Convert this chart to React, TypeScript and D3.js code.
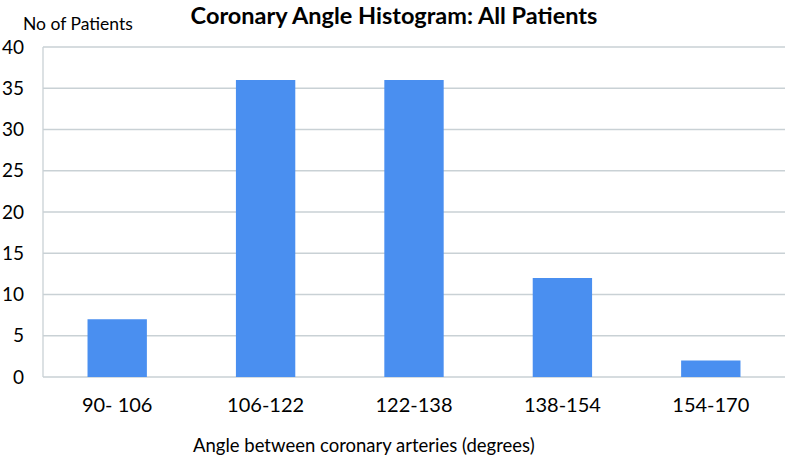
import React, { useRef, useEffect } from 'react';
import * as d3 from 'd3';

const categories = ['90- 106', '106-122', '122-138', '138-154', '154-170'];
const patients = [7, 36, 36, 12, 2];
const yTicks = [0, 5, 10, 15, 20, 25, 30, 35, 40];

const W = 787;
const H = 457;
const FONT = 'Lato, "Open Sans", sans-serif';

const App = () => {
  const ref = useRef<SVGSVGElement>(null);

  useEffect(() => {
    const svg = d3.select(ref.current);
    svg.selectAll('*').remove();

    const left = 43, right = 785, top = 47, bottom = 377;

    const x = d3.scaleBand<string>()
      .domain(categories)
      .range([left, right])
      .paddingInner(0.6)
      .paddingOuter(0.3);

    const y = d3.scaleLinear().domain([0, 40]).range([bottom, top]);

    // gridlines
    svg.append('g')
      .selectAll('line')
      .data(yTicks)
      .enter().append('line')
      .attr('x1', left)
      .attr('x2', right)
      .attr('y1', d => y(d))
      .attr('y2', d => y(d))
      .attr('stroke', '#c9d1d5')
      .attr('stroke-width', 1.3);

    // left axis line
    svg.append('line')
      .attr('x1', left).attr('x2', left)
      .attr('y1', top).attr('y2', bottom)
      .attr('stroke', '#c9d1d5')
      .attr('stroke-width', 1.3);

    // bars
    svg.append('g')
      .selectAll('rect')
      .data(patients)
      .enter().append('rect')
      .attr('x', (d, i) => x(categories[i]) as number)
      .attr('y', d => y(d))
      .attr('width', x.bandwidth())
      .attr('height', d => bottom - y(d))
      .attr('fill', '#4a8ff0');

    // y tick labels
    svg.append('g')
      .selectAll('text')
      .data(yTicks)
      .enter().append('text')
      .attr('x', 24)
      .attr('y', d => y(d) + 6.5)
      .attr('text-anchor', 'end')
      .attr('font-family', FONT)
      .attr('font-size', 19)
      .attr('fill', '#000')
      .text(d => d);

    // x tick labels
    svg.append('g')
      .selectAll('text')
      .data(categories)
      .enter().append('text')
      .attr('x', d => (x(d) as number) + x.bandwidth() / 2)
      .attr('y', 412)
      .attr('text-anchor', 'middle')
      .attr('font-family', FONT)
      .attr('font-size', 20)
      .attr('fill', '#000')
      .text(d => d);

    svg.append('text')
      .attr('x', 394)
      .attr('y', 23.5)
      .attr('text-anchor', 'middle')
      .attr('font-family', FONT)
      .attr('font-weight', 'bold')
      .attr('font-size', 23.5)
      .text('Coronary Angle Histogram: All Patients');

    svg.append('text')
      .attr('x', 23)
      .attr('y', 30)
      .attr('font-family', FONT)
      .attr('font-size', 17.5)
      .text('No of Patients');

    svg.append('text')
      .attr('x', 193)
      .attr('y', 452)
      .attr('font-family', FONT)
      .attr('font-size', 18.5)
      .text('Angle between coronary arteries (degrees)');
  }, []);

  return (
    <svg
      ref={ref}
      width={W}
      height={H}
      style={{ position: 'absolute', left: 0, top: 0, background: '#fff' }}
    />
  );
};

export default App;
